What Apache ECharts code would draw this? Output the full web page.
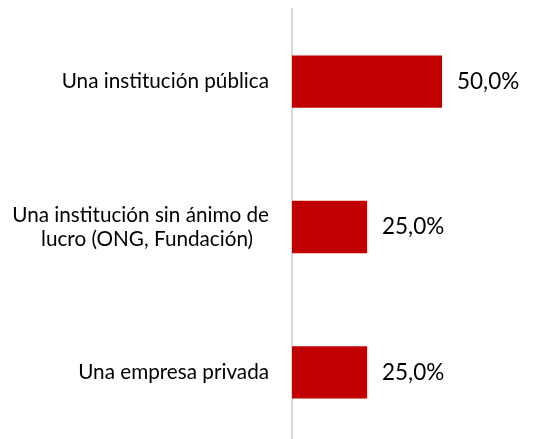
<!DOCTYPE html>
<html>
<head>
<meta charset="utf-8">
<script src="https://cdn.jsdelivr.net/npm/echarts@6/dist/echarts.min.js"></script>
<style>
  html, body { margin: 0; padding: 0; background: #fff; }
  #chart { width: 555px; height: 439px; }
</style>
</head>
<body>
<div id="chart"></div>
<script>
// categorias y valores (%)
var categorias = ['Una institución pública', 'Una institución sin ánimo de\nlucro (ONG, Fundación)', 'Una empresa privada']
var valores = [50.0, 25.0, 25.0]

var chart = echarts.init(document.getElementById('chart'))
var option = {
  animation: false,
  grid: {
    left: 292,
    width: 240,
    top: 9,
    height: 436,
    outerBoundsMode: 'none'
  },
  xAxis: {
    type: 'value',
    min: 0,
    max: 80,
    show: false
  },
  yAxis: {
    type: 'category',
    inverse: true,
    data: categorias,
    axisLine: { show: true, lineStyle: { color: '#D9D9D9', width: 2 } },
    axisTick: { show: false },
    axisLabel: {
      margin: 23,
      color: '#000',
      fontFamily: 'Lato',
      fontSize: 20.7,
      lineHeight: 24,
      align: 'right',
      // segunda linea centrada bajo la primera (espacios duros al final)
      formatter: function (v) {
        var l = v.split('\n')
        if (l.length < 2) return v
        return l[0] + '\n' + l[1] + '\u00a0\u00a0\u00a0'
      }
    }
  },
  series: [
    {
      type: 'bar',
      data: valores,
      barWidth: '36%',
      itemStyle: { color: '#C00000' },
      label: {
        show: true,
        position: 'right',
        distance: 15,
        color: '#000',
        fontFamily: 'Lato',
        fontSize: 22.5,
        formatter: function (p) { return p.value.toFixed(1).replace('.', ',') + '%' }
      }
    }
  ]
}
chart.setOption(option)
</script>
</body>
</html>
